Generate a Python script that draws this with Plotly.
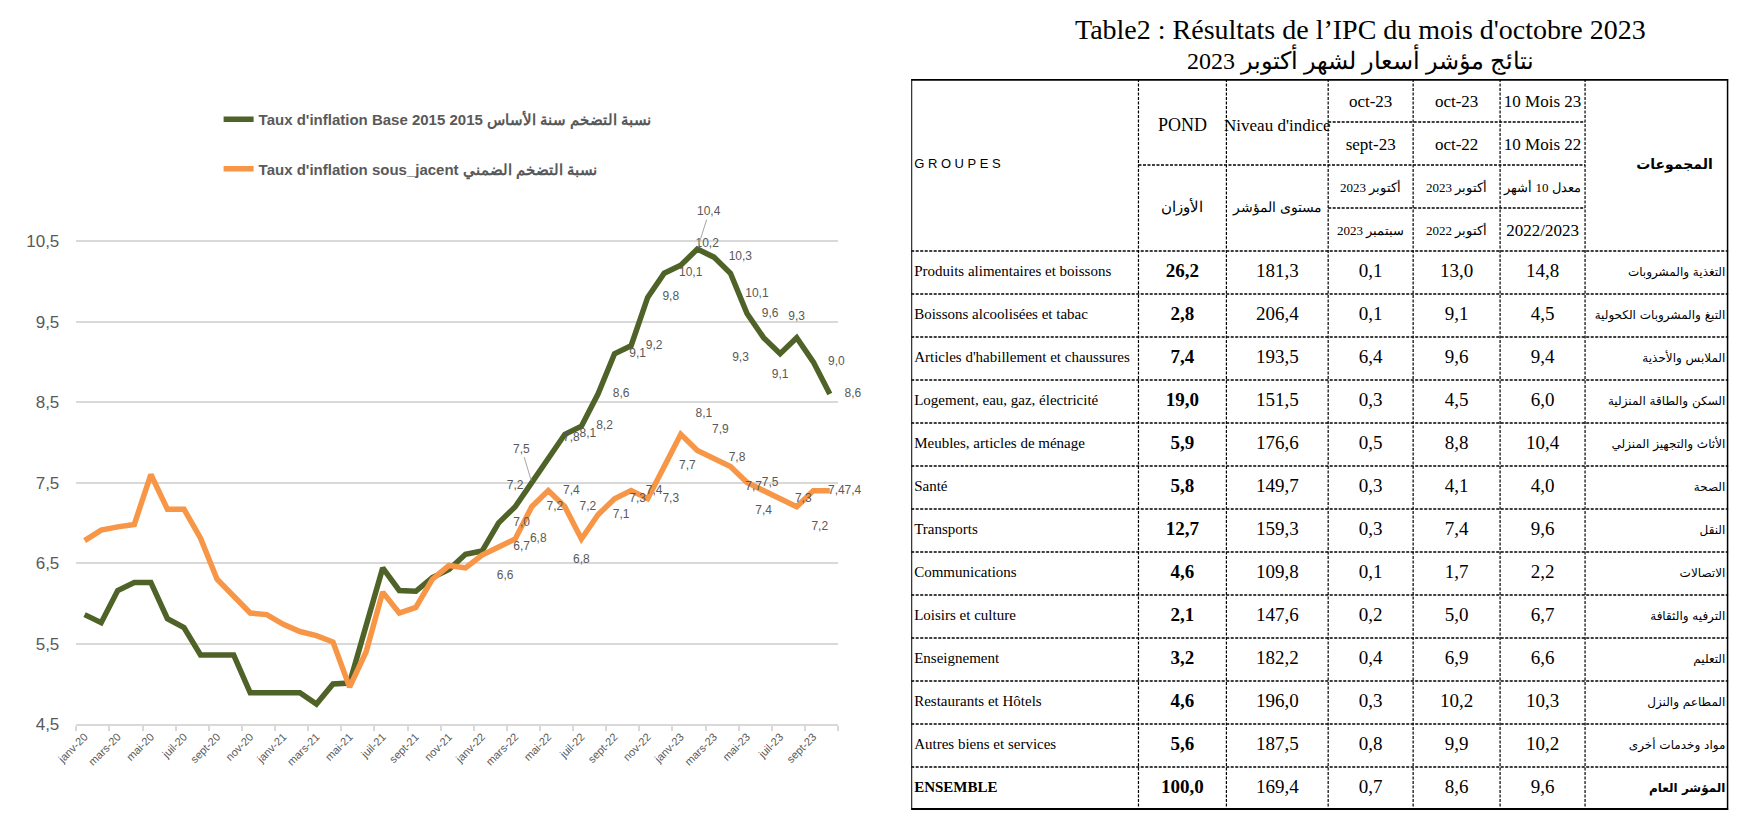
import plotly.graph_objects as go

# ---------------- chart data ----------------
months = ["janv", "févr", "mars", "avr", "mai", "juin", "juil", "août", "sept", "oct", "nov", "déc"]
periods = [f"{m}-{y}" for y in ("20", "21", "22", "23") for m in months][:46]

infl_base = [5.86, 5.76, 6.16, 6.26, 6.26, 5.81, 5.70, 5.36, 5.36, 5.36, 4.89, 4.89,
             4.89, 4.89, 4.75, 5.00, 5.01, 5.70, 6.44, 6.16, 6.15, 6.32, 6.42, 6.61,
             6.65, 7.0, 7.2, 7.5, 7.8, 8.1, 8.2, 8.6, 9.1, 9.2, 9.8, 10.1,
             10.2, 10.4, 10.3, 10.1, 9.6, 9.3, 9.1, 9.3, 9.0, 8.6]
infl_sous = [6.78, 6.91, 6.95, 6.98, 7.60, 7.17, 7.17, 6.81, 6.30, 6.10, 5.88, 5.86,
             5.74, 5.65, 5.60, 5.52, 4.96, 5.40, 6.14, 5.88, 5.95, 6.30, 6.47, 6.44,
             6.6, 6.7, 6.8, 7.2, 7.4, 7.2, 6.8, 7.1, 7.3, 7.4, 7.3, 7.7,
             8.1, 7.9, 7.8, 7.7, 7.5, 7.4, 7.3, 7.2, 7.4, 7.4]
first_label_base = 25
first_label_sous = 24
leader_points = [27, 37]   # labels drawn with a leader line

name_base = "Taux d'inflation Base 2015 2015 نسبة التضخم سنة الأساس"
name_sous = "Taux d'inflation sous_jacent نسبة التضخم الضمني"

# ---------------- table data ----------------
table_title = "Table2 : Résultats de l’IPC du mois d'octobre 2023"
table_title_ar = "نتائج مؤشر أسعار لشهر أكتوبر 2023"
groupes = ["Produits alimentaires et boissons", "Boissons alcoolisées et tabac",
           "Articles d'habillement et chaussures", "Logement, eau, gaz, électricité",
           "Meubles, articles de ménage", "Santé", "Transports", "Communications",
           "Loisirs et culture", "Enseignement", "Restaurants et Hôtels",
           "Autres biens et services", "ENSEMBLE"]
groupes_ar = ["التغذية والمشروبات", "التبغ والمشروبات الكحولية", "الملابس والأحذية",
              "السكن والطاقة المنزلية", "الأثاث والتجهيز المنزلي", "الصحة", "النقل",
              "الاتصالات", "الترفيه والثقافة", "التعليم", "المطاعم والنزل",
              "مواد وخدمات أخرى", "المؤشر العام"]
pond = [26.2, 2.8, 7.4, 19.0, 5.9, 5.8, 12.7, 4.6, 2.1, 3.2, 4.6, 5.6, 100.0]
niveau = [181.3, 206.4, 193.5, 151.5, 176.6, 149.7, 159.3, 109.8, 147.6, 182.2, 196.0, 187.5, 169.4]
var_mois = [0.1, 0.1, 6.4, 0.3, 0.5, 0.3, 0.3, 0.1, 0.2, 0.4, 0.3, 0.8, 0.7]
var_annee = [13.0, 9.1, 9.6, 4.5, 8.8, 4.1, 7.4, 1.7, 5.0, 6.9, 10.2, 9.9, 8.6]
var_10mois = [14.8, 4.5, 9.4, 6.0, 10.4, 4.0, 9.6, 2.2, 6.7, 6.6, 10.3, 10.2, 9.6]
head_groupes = "G R O U P E S"
head_pond = ["POND", "الأوزان"]
head_niveau = ["Niveau d'indice", "مستوى المؤشر"]
head_mois = ["oct-23", "sept-23", "أكتوبر 2023", "سبتمبر 2023"]
head_annee = ["oct-23", "oct-22", "أكتوبر 2023", "أكتوبر 2022"]
head_10mois = ["10 Mois 23", "10 Mois 22", "معدل 10 أشهر", "2022/2023"]
head_ar = "المجموعات"

# ---------------- styling / layout constants ----------------
W, H = 1755, 827
GREEN = "#4F6228"
ORANGE = "#F79646"
GRAY_TXT = "#595959"
GRID = "#D9D9D9"
SANS = "Liberation Sans"
SERIF = "Liberation Serif"

base_pos = ["middle right", "top center", "", "top right", "middle right", "middle right",
            "middle right", "middle right", "middle right", "middle right", "middle right",
            "top right", "", "middle right", "bottom right", "middle right", "bottom left",
            "bottom center", "top center", "middle right", "middle right"]
sous_pos = ["bottom right", "middle right", "middle right", "middle right", "middle right",
            "middle right", "bottom center", "middle right", "middle right", "middle right",
            "middle right", "middle right", "top right", "top right", "middle right",
            "bottom right", "middle right", "bottom center", "middle right", "bottom right",
            "middle right", "middle right"]


def fr(v):
    return f"{v:.1f}".replace(".", ",")


def is_ar(s):
    return any("\u0600" <= c <= "\u06FF" for c in s)


fig = go.Figure()
idx = list(range(len(periods)))

fig.add_trace(go.Scatter(x=idx, y=infl_base, mode="lines", name=name_base,
                         line=dict(color=GREEN, width=5.5), legend="legend",
                         xaxis="x", yaxis="y", hoverinfo="skip"))
fig.add_trace(go.Scatter(x=idx, y=infl_sous, mode="lines", name=name_sous,
                         line=dict(color=ORANGE, width=5.5), legend="legend2",
                         xaxis="x", yaxis="y", hoverinfo="skip"))

lab_font = dict(family=SANS, size=12, color=GRAY_TXT)
bx = idx[first_label_base:]
bt = [("" if i in leader_points else fr(infl_base[i])) for i in bx]
fig.add_trace(go.Scatter(x=bx, y=infl_base[first_label_base:], mode="markers+text", text=bt,
                         textposition=[p if p else "middle center" for p in base_pos],
                         textfont=lab_font, marker=dict(size=22, color="rgba(0,0,0,0)"),
                         showlegend=False, hoverinfo="skip", cliponaxis=False))
sx = idx[first_label_sous:]
fig.add_trace(go.Scatter(x=sx, y=infl_sous[first_label_sous:], mode="markers+text",
                         text=[fr(infl_sous[i]) for i in sx], textposition=sous_pos,
                         textfont=lab_font, marker=dict(size=22, color="rgba(0,0,0,0)"),
                         showlegend=False, hoverinfo="skip", cliponaxis=False))

annotations = []
for i, (ax, ay) in zip(leader_points, [(-10, -34), (12, -38)]):
    annotations.append(dict(x=i, y=infl_base[i], xref="x", yref="y", text=fr(infl_base[i]),
                            showarrow=True, arrowhead=0, arrowwidth=1, arrowcolor="#A6A6A6",
                            ax=ax, ay=ay, font=lab_font, standoff=2))

# ---------------- table ----------------
col_edges = [0, 230, 319, 422, 508, 596, 682, 827]
centers = [(col_edges[k] + col_edges[k + 1]) / 2 for k in range(len(col_edges) - 1)]
n = len(groupes)
row_y = [4.5 + k for k in range(n)]
num_font = dict(family=SERIF, size=19, color="black")


def ttrace(x, y, text, pos, font):
    fig.add_trace(go.Scatter(x=x, y=y, text=text, mode="text", textposition=pos,
                             textfont=font, xaxis="x2", yaxis="y2", showlegend=False,
                             hoverinfo="skip", cliponaxis=False))


def hfont(strings, lat=17, ar=13):
    return dict(family=SERIF, color="black", size=[ar if is_ar(s) else lat for s in strings])


ttrace([3] * n, row_y, [f"<b>{g}</b>" if g == "ENSEMBLE" else g for g in groupes],
       "middle right", dict(family=SERIF, size=15, color="black"))
ttrace([centers[1]] * n, row_y, [f"<b>{fr(v)}</b>" for v in pond], "middle center", num_font)
for k, col in enumerate([niveau, var_mois, var_annee, var_10mois]):
    ttrace([centers[2 + k]] * n, row_y, [fr(v) for v in col], "middle center", num_font)
ttrace([col_edges[-1] - 3] * n, row_y,
       [f"<b>{g}</b>" if k == n - 1 else g for k, g in enumerate(groupes_ar)],
       "middle left", dict(family="DejaVu Sans", size=12, color="black"))

ttrace([3], [2.0], [head_groupes], "middle right", dict(family=SANS, size=13, color="black"))
ttrace([centers[1]] * 2, [1.1, 3.0], head_pond, "middle center", hfont(head_pond, 18, 15))
ttrace([centers[2]] * 2, [1.1, 3.0], head_niveau, "middle center", hfont(head_niveau, 17, 14))
for k, col in enumerate([head_mois, head_annee, head_10mois]):
    ttrace([centers[3 + k]] * 4, [0.55, 1.55, 2.55, 3.55], col, "middle center", hfont(col))
ttrace([centers[6] + 18], [2.0], [f"<b>{head_ar}</b>"], "middle center",
       dict(family="DejaVu Sans", size=14, color="black"))

shapes = []
DASH = "3px,1.5px"
for xe in col_edges[1:-1]:
    shapes.append(dict(type="line", xref="x2", yref="y2", x0=xe, x1=xe, y0=0, y1=17,
                       line=dict(color="black", width=1.2, dash=DASH)))
shapes.append(dict(type="line", xref="x2", yref="y2", x0=col_edges[3], x1=col_edges[6], y0=1, y1=1,
                   line=dict(color="black", width=1.5, dash=DASH)))
shapes.append(dict(type="line", xref="x2", yref="y2", x0=col_edges[1], x1=col_edges[6], y0=2, y1=2,
                   line=dict(color="black", width=1.5, dash=DASH)))
shapes.append(dict(type="line", xref="x2", yref="y2", x0=col_edges[3], x1=col_edges[6], y0=3, y1=3,
                   line=dict(color="black", width=1.5, dash=DASH)))
for r in range(4, 17):
    shapes.append(dict(type="line", xref="x2", yref="y2", x0=0, x1=col_edges[-1], y0=r, y1=r,
                       line=dict(color="black", width=1.5, dash=DASH)))
shapes += [
    dict(type="line", xref="x2", yref="y2", x0=0, x1=col_edges[-1], y0=0, y1=0,
         line=dict(color="black", width=3.5)),
    dict(type="line", xref="x2", yref="y2", x0=0, x1=col_edges[-1], y0=17, y1=17,
         line=dict(color="black", width=4)),
    dict(type="line", xref="x2", yref="y2", x0=0, x1=0, y0=0, y1=17,
         line=dict(color="black", width=2)),
    dict(type="line", xref="x2", yref="y2", x0=col_edges[-1], x1=col_edges[-1], y0=0, y1=17,
         line=dict(color="black", width=3)),
]

annotations.append(dict(x=1356 / W, y=1 - 30 / H, xref="paper", yref="paper", text=table_title,
                        showarrow=False, xanchor="center", yanchor="middle",
                        font=dict(family=SERIF, size=28, color="black")))
annotations.append(dict(x=1356 / W, y=1 - 60 / H, xref="paper", yref="paper", text=table_title_ar,
                        showarrow=False, xanchor="center", yanchor="middle",
                        font=dict(family=SERIF, size=24, color="black")))

legend_font = dict(family=SANS, size=15, color=GRAY_TXT, weight="bold")

fig.update_layout(
    width=W, height=H, margin=dict(l=0, r=0, t=0, b=0),
    paper_bgcolor="white", plot_bgcolor="white", separators=", ",
    xaxis=dict(domain=[56 / W, 827 / W], range=[-0.5, 45.5], anchor="y",
               tickmode="array", tickvals=idx[0::2], ticktext=periods[0::2],
               tickangle=-45, ticks="", showgrid=False, zeroline=False,
               showline=True, linecolor=GRID, linewidth=2,
               tickfont=dict(family=SANS, size=11, color=GRAY_TXT),
               minor=dict(tickmode="array", tickvals=[-0.5 + 2 * k for k in range(24)],
                          ticks="outside", ticklen=5, tickcolor=GRID, tickwidth=1.5,
                          showgrid=False)),
    yaxis=dict(domain=[1 - 733 / H, 1 - 203.25 / H], range=[4.5, 11.0], anchor="x",
               tickmode="array", tickvals=[4.5, 5.5, 6.5, 7.5, 8.5, 9.5, 10.5],
               tickformat=".1f", showgrid=True, gridcolor=GRID, gridwidth=2,
               zeroline=False, showline=False, ticks="", ticklabelstandoff=16,
               tickfont=dict(family=SANS, size=17, color=GRAY_TXT)),
    xaxis2=dict(domain=[901 / W, 1728 / W], range=[0, col_edges[-1]], anchor="y2",
                visible=False),
    yaxis2=dict(domain=[1 - 820 / H, 1 - 80 / H], range=[17, 0], anchor="x2",
                visible=False),
    legend=dict(x=200 / W, y=1 - 121 / H, xanchor="left", yanchor="middle",
                font=legend_font, bgcolor="rgba(0,0,0,0)"),
    legend2=dict(x=200 / W, y=1 - 171 / H, xanchor="left", yanchor="middle",
                 font=legend_font, bgcolor="rgba(0,0,0,0)"),
    shapes=shapes, annotations=annotations,
)

fig.write_html("out.html", config={"displayModeBar": False},
               post_script="document.body.style.margin='0px';document.body.style.overflow='hidden';")
